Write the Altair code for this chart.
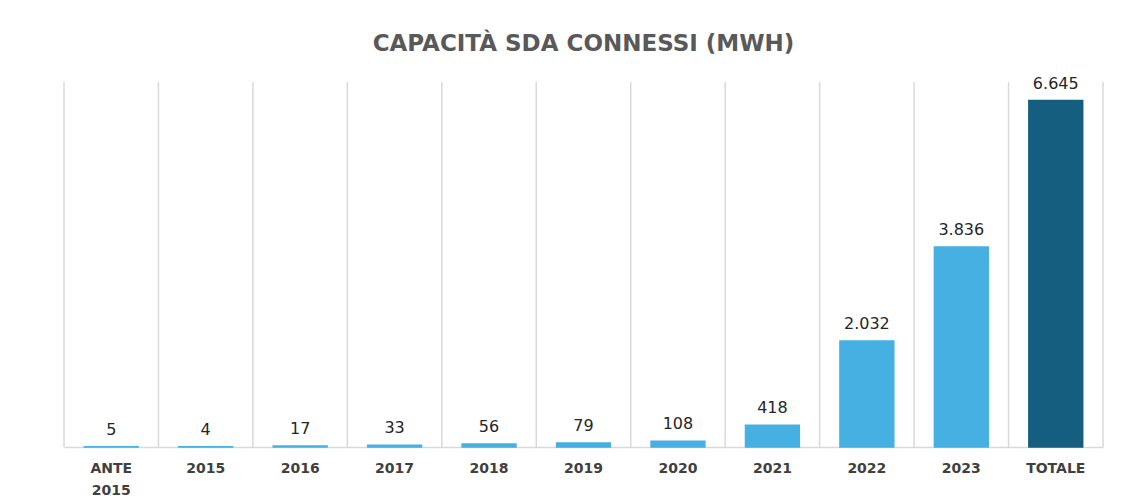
import altair as alt
import pandas as pd

categories = ["ANTE 2015", "2015", "2016", "2017", "2018", "2019", "2020", "2021", "2022", "2023", "TOTALE"]
values = [5, 4, 17, 33, 56, 79, 108, 418, 2032, 3836, 6645]
kinds = ["anno"] * 10 + ["totale"]

df = pd.DataFrame({"cat": categories, "val": values, "kind": kinds})
df["label"] = df["val"].map(lambda v: f"{v:,}".replace(",", "."))

x_enc = alt.X(
    "cat:N",
    sort=categories,
    scale=alt.Scale(paddingInner=0, paddingOuter=0),
    axis=alt.Axis(
        title=None,
        labelAngle=0,
        labelAlign="center",
        ticks=False,
        grid=False,
        domainColor="#d9d9d9",
        domainWidth=1.5,
        labelFont="DejaVu Sans",
        labelFontWeight="bold",
        labelFontSize=14,
        labelColor="#404040",
        labelPadding=21,
        labelLineHeight=22,
        labelExpr="datum.value == 'ANTE 2015' ? ['ANTE', '2015'] : datum.label",
    ),
)
y_enc = alt.Y("val:Q", scale=alt.Scale(domain=[0, 7000]), axis=None)

grid = alt.Chart(df).mark_rule(color="#d9d9d9", strokeWidth=1.5).encode(
    x=alt.X("cat:N", sort=categories, bandPosition=0),
    y=alt.value(0),
    y2=alt.value(365),
)

edge = alt.Chart(df).transform_filter(alt.datum.cat == "TOTALE").mark_rule(
    color="#d9d9d9", strokeWidth=1.5
).encode(
    x=alt.X("cat:N", sort=categories, bandPosition=1),
    y=alt.value(0),
    y2=alt.value(365),
)

bars = alt.Chart(df).mark_bar(
    width=alt.RelativeBandSize(0.57), strokeWidth=1.5
).encode(
    x=x_enc,
    y=y_enc,
    color=alt.Color(
        "kind:N",
        scale=alt.Scale(domain=["anno", "totale"], range=["#45b0e1", "#165e80"]),
        legend=None,
    ),
    stroke=alt.Color(
        "kind:N",
        scale=alt.Scale(domain=["anno", "totale"], range=["#45b0e1", "#165e80"]),
        legend=None,
    ),
)

texts = alt.Chart(df).mark_text(
    baseline="bottom", dy=-9, font="DejaVu Sans", fontSize=16, color="#262626"
).encode(x=alt.X("cat:N", sort=categories), y=y_enc, text="label:N")

chart = (
    alt.layer(grid, edge, bars, texts)
    .properties(
        width=1039,
        height=365,
        padding={"left": 55, "top": 24, "right": 10, "bottom": 5},
        title=alt.TitleParams(
            "CAPACITÀ SDA CONNESSI (MWH)",
            font="DejaVu Sans",
            fontSize=23,
            fontWeight="bold",
            color="#595959",
            anchor="middle",
            offset=20,
        ),
    )
    .configure_view(stroke=None)
)

chart.save("out.html", embed_options={"renderer": "svg", "actions": False})
